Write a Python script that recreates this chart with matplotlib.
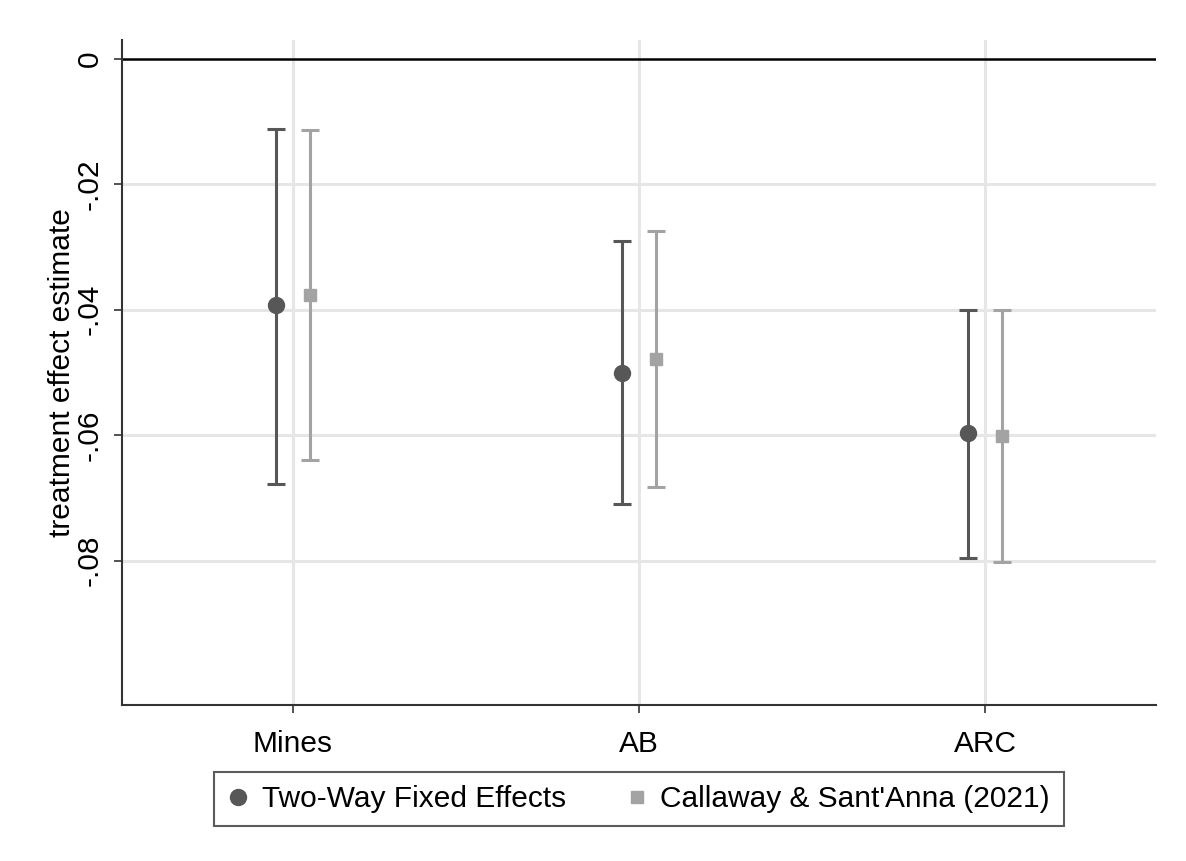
import matplotlib
matplotlib.use("Agg")
import matplotlib.pyplot as plt
import numpy as np

plt.rcParams['font.family'] = ['Liberation Sans', 'DejaVu Sans']

categories = ["Mines", "AB", "ARC"]
twfe_est = [-0.0393, -0.0500, -0.0597]
twfe_lo = [-0.0677, -0.0710, -0.0796]
twfe_hi = [-0.0112, -0.0291, -0.0401]
cs_est = [-0.0377, -0.0478, -0.0602]
cs_lo = [-0.0640, -0.0682, -0.0802]
cs_hi = [-0.0113, -0.0274, -0.0401]
yticks = [0, -0.02, -0.04, -0.06, -0.08]
ytick_labels = ["0", "-.02", "-.04", "-.06", "-.08"]

W, H = 1186, 861
fig = plt.figure(figsize=(W / 100, H / 100), dpi=100)
ax = fig.add_axes([122 / W, 1 - 705 / H, (1156 - 122) / W, (705 - 40) / H])

x = np.arange(1, len(categories) + 1)
off = 0.05
dark = "#575757"
light = "#a3a3a3"
grid = "#e6e6e6"
fs = 21.5

for xi in x:
    ax.axvline(xi, color=grid, lw=2.2, zorder=0)
for yt in yticks[1:]:
    ax.axhline(yt, color=grid, lw=2.2, zorder=0)
ax.axhline(0, color="black", lw=1.8, zorder=1)

tw = np.array(twfe_est)
cs = np.array(cs_est)
ax.errorbar(x - off, tw, yerr=[tw - np.array(twfe_lo), np.array(twfe_hi) - tw],
            fmt="o", color=dark, ms=11.5, elinewidth=2.2, capsize=6.5, capthick=2.2,
            label="Two-Way Fixed Effects", zorder=3)
ax.errorbar(x + off, cs, yerr=[cs - np.array(cs_lo), np.array(cs_hi) - cs],
            fmt="s", color=light, ms=8.5, elinewidth=2.2, capsize=6.5, capthick=2.2,
            label="Callaway & Sant'Anna (2021)", zorder=3)

ax.set_xlim(0.506, 3.494)
ax.set_ylim(-0.103, 0.003)
ax.set_xticks(x)
ax.set_xticklabels(categories, fontsize=fs)
ax.set_yticks(yticks)
ax.set_yticklabels(ytick_labels, fontsize=fs, rotation=90, va="center")
ax.tick_params(axis="both", length=6, width=1.2, color="#333333")
ax.tick_params(axis="x", pad=12)
ax.tick_params(axis="y", pad=7)
ax.set_ylabel("treatment effect estimate", fontsize=fs, labelpad=0)
for s in ["top", "right"]:
    ax.spines[s].set_visible(False)
for s in ["left", "bottom"]:
    ax.spines[s].set_linewidth(1.5)
    ax.spines[s].set_color("#333333")

h, l = ax.get_legend_handles_labels()
h = [hh[0] for hh in h]
leg = fig.legend(h, l, ncol=2, loc="center",
                 bbox_to_anchor=(639 / W, 1 - 799 / H),
                 fontsize=fs, frameon=True, fancybox=False,
                 edgecolor="#333333", handlelength=0.7, handletextpad=0.45,
                 borderpad=0.45, borderaxespad=0, columnspacing=2.0)
leg.get_frame().set_linewidth(1.5)

fig.savefig("out.png", dpi=100, facecolor="white")
